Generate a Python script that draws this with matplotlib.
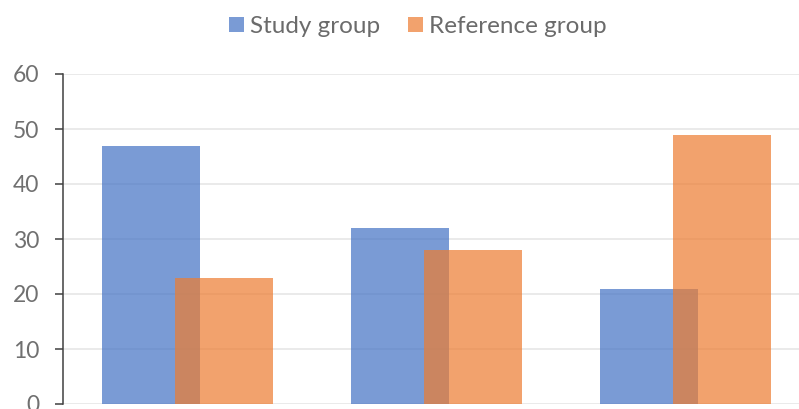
import matplotlib
matplotlib.use("Agg")
import matplotlib.pyplot as plt
import numpy as np

categories = ["Group 1", "Group 2", "Group 3"]
series_names = ["Study group", "Reference group"]
study = [47, 32, 21]
reference = [23, 28, 49]
y_ticks = [0, 10, 20, 30, 40, 50, 60]

plt.rcParams['font.family'] = ['Lato', 'DejaVu Sans']

fig = plt.figure(figsize=(7.99, 4.09), dpi=100)
ax = fig.add_axes([63/799, 5/409, 747/799, 330/409])

x = np.arange(len(categories))
w = 0.394
off = 0.148
b1 = ax.bar(x - off, study, width=w, color='#4472C4', alpha=0.71, label=series_names[0], zorder=2)
b2 = ax.bar(x + off, reference, width=w, color='#ED7D31', alpha=0.71, label=series_names[1], zorder=3)

ax.set_xlim(-0.5, 2.5)
ax.set_ylim(0, 60)
ax.set_yticks(y_ticks)
ax.set_xticks([])
ax.set_axisbelow(True)
ax.grid(True, axis='y', color='#e6e6e6', linewidth=1.2, zorder=0)
for s in ['top', 'right', 'bottom']:
    ax.spines[s].set_visible(False)
ax.spines['left'].set_color('#404040')
ax.spines['left'].set_linewidth(1.1)
ax.spines['left'].set_zorder(5)
ax.tick_params(axis='y', direction='out', length=6, width=1.1, color='#404040',
               labelsize=16.5, labelcolor='#707070', pad=11)

leg = fig.legend(handles=[b1, b2], labels=series_names, loc='upper center',
                 bbox_to_anchor=(418/799, 1.0), ncol=2, frameon=False,
                 fontsize=17.5, labelcolor='#6b6b6b', handlelength=0.6, handleheight=0.6,
                 columnspacing=1.15, handletextpad=0.25, borderaxespad=0.25)

fig.savefig("out.png", dpi=100)
